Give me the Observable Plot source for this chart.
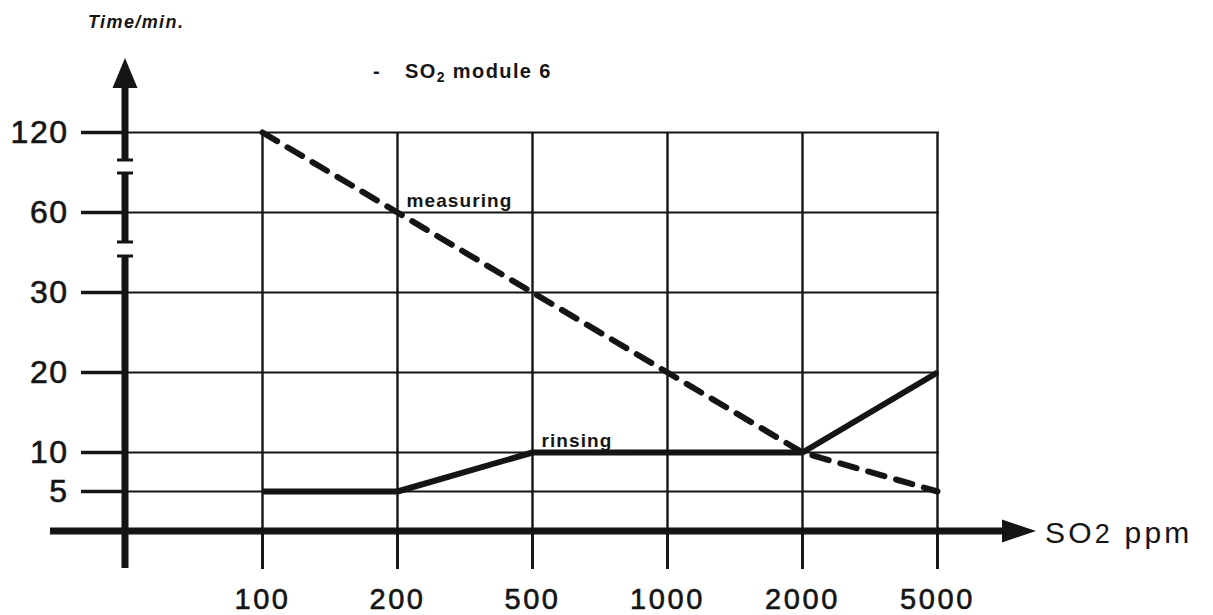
<!DOCTYPE html>
<html>
<head>
<meta charset="utf-8">
<script src="https://cdn.jsdelivr.net/npm/d3@7"></script>
<script src="https://cdn.jsdelivr.net/npm/@observablehq/plot@0.6"></script>
<style>
  html, body { margin: 0; padding: 0; background: #fff; }
  #chart { width: 1213px; height: 615px; overflow: hidden; }
  svg [aria-label="y-axis tick label"] text { letter-spacing: 1.5px; stroke: #151515; stroke-width: 0.6px; }
  svg [aria-label="x-axis tick label"] text { letter-spacing: 2.6px; stroke: #151515; stroke-width: 0.6px; }
</style>
</head>
<body>
<div id="chart"></div>
<script>
// ---- data ----
const ppmCategories = ["100", "200", "500", "1000", "2000", "5000"];
const timeTicks = [5, 10, 20, 30, 60, 120];
const measuringTime = [120, 60, 30, 20, 10, 5];
const rinsingTime = [5, 5, 10, 10, 10, 20];
const seriesLabels = ["measuring", "rinsing"];
const seriesLabelAt = ["200", "500"];
const seriesLabelValue = [60, 10];
const titleText = "Time/min.";
const xAxisTitle = ["SO", "2", " ppm"];
const legendText = ["SO", "2", " module 6"];

// ---- tables ----
const rows = ppmCategories.map((c, i) => ({ppm: c, measuring: measuringTime[i], rinsing: rinsingTime[i]}));
const labelRows = seriesLabels.map((s, i) => ({name: s, ppm: seriesLabelAt[i], t: seriesLabelValue[i]}));

const W = 1213, H = 615;
const mL = 125, mR = 274, mT = 132, mB = 84;
const FONT = "'Liberation Sans', Arial, Helvetica, sans-serif";
const INK = "#151515";

const chart = Plot.plot({
  width: W, height: H,
  marginLeft: mL, marginRight: mR, marginTop: mT, marginBottom: mB,
  style: {fontFamily: FONT, color: INK, background: "#fff", overflow: "visible"},
  x: {type: "point", domain: ppmCategories, range: [260, 939], padding: 0},
  y: {type: "linear", domain: timeTicks, range: [491, 452, 372, 292, 212, 132]},
  marks: [
    Plot.gridX(ppmCategories, {stroke: INK, strokeOpacity: 1, strokeWidth: 2.4}),
    Plot.gridY(timeTicks, {stroke: INK, strokeOpacity: 1, strokeWidth: 2}),
    Plot.axisY({ticks: timeTicks, tickSize: 44, tickPadding: 13, strokeWidth: 3.5, fontSize: 32, label: null, tickFormat: d => String(d)}),
    Plot.axisX({tickSize: 38, tickPadding: 19, strokeWidth: 3, fontSize: 29, label: null}),
    Plot.line(rows, {x: "ppm", y: "measuring", stroke: INK, strokeWidth: 6, strokeDasharray: "17,12", strokeLinecap: "round"}),
    Plot.line(rows, {x: "ppm", y: "rinsing", stroke: INK, strokeWidth: 6, strokeLinecap: "butt", strokeLinejoin: "round"}),
    Plot.text(labelRows, {x: "ppm", y: "t", text: "name", textAnchor: "start", lineAnchor: "bottom", dx: 9, dy: -6, fontSize: 19, fontWeight: "bold", fill: INK})
  ]
});
document.getElementById("chart").appendChild(chart);

// ---- decorations: axis arrows, axis breaks, titles ----
const svg = d3.select(chart);
svg.selectAll('[aria-label="text"] text').style("letter-spacing", "1.1px");
const g = svg.append("g").attr("fill", INK).attr("stroke", INK).attr("text-anchor", "start");
const ax = mL, ay = H - mB; // axis origin in pixels

// y-axis with two breaks
const ySegs = [[87, 160], [173, 242], [256, 568]];
ySegs.forEach(([a, b]) => {
  g.append("line").attr("x1", ax).attr("x2", ax).attr("y1", a).attr("y2", b).attr("stroke-width", 7);
});
[160, 173, 242, 256].forEach(v => {
  g.append("line").attr("x1", ax - 8).attr("x2", ax + 8).attr("y1", v).attr("y2", v).attr("stroke-width", 3);
});
g.append("path").attr("stroke", "none").attr("d", `M${ax - 12.5},88 L${ax + 12.5},88 L${ax},58 Z`);

// x-axis line with arrow
g.append("line").attr("x1", 50).attr("x2", 1004).attr("y1", ay).attr("y2", ay).attr("stroke-width", 7);
g.append("path").attr("stroke", "none").attr("d", `M1002,${ay - 11.5} L1002,${ay + 11.5} L1036,${ay} Z`);

// x-axis title
const xt = g.append("text").attr("stroke", "none").attr("x", 1045).attr("y", 543)
  .attr("font-size", 30).attr("font-family", FONT).style("letter-spacing", "3.2px");
xt.append("tspan").text(xAxisTitle[0]);
xt.append("tspan").attr("font-size", 27).text(xAxisTitle[1]);
xt.append("tspan").text(xAxisTitle[2]);

// y-axis title
g.append("text").attr("stroke", "none").attr("x", 88).attr("y", 28)
  .attr("font-size", 18).attr("font-weight", "bold").attr("font-style", "italic")
  .attr("font-family", FONT).style("letter-spacing", "1.4px").text(titleText);

// legend line
g.append("text").attr("stroke", "none").attr("x", 373).attr("y", 78)
  .attr("font-size", 20).attr("font-weight", "bold").attr("font-family", FONT).text("-");
const lt = g.append("text").attr("stroke", "none").attr("x", 405).attr("y", 78)
  .attr("font-size", 20).attr("font-weight", "bold").attr("font-family", FONT).style("letter-spacing", "1.4px");
lt.append("tspan").text(legendText[0]);
lt.append("tspan").attr("font-size", 14).attr("dy", 4).text(legendText[1]);
lt.append("tspan").attr("dy", -4).text(legendText[2]);
</script>
</body>
</html>
